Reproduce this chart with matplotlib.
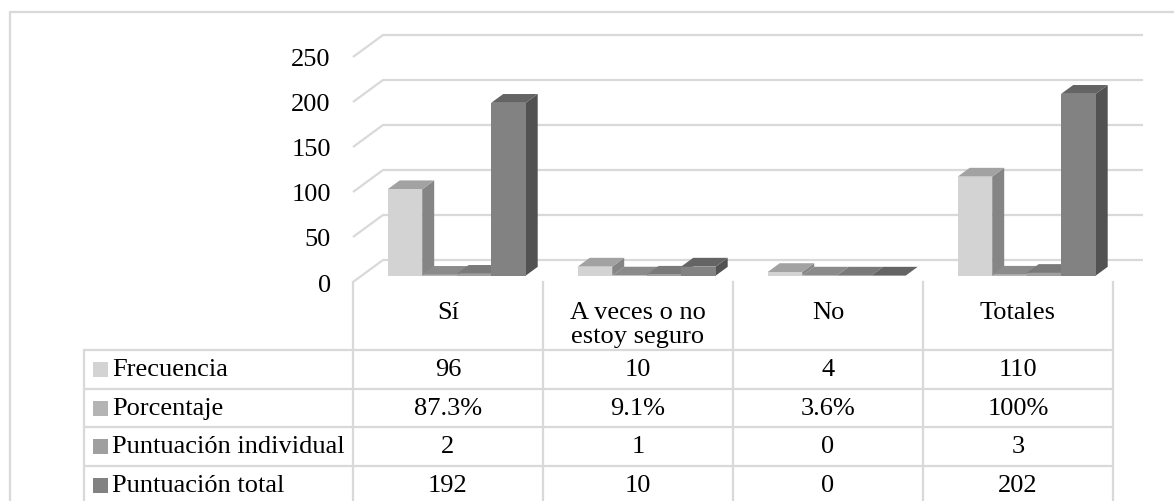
import numpy as np
import matplotlib
matplotlib.use("Agg")
import matplotlib.pyplot as plt
from matplotlib.patches import Polygon, Rectangle

plt.rcParams['font.family'] = ['Liberation Serif', 'DejaVu Sans']

# datos
categorias = ["Sí", "A veces o no\nestoy seguro", "No", "Totales"]
series = ["Frecuencia", "Porcentaje", "Puntuación individual", "Puntuación total"]
frecuencia = [96, 10, 4, 110]
porcentaje = [0.873, 0.091, 0.036, 1.00]
punt_individual = [2, 1, 0, 3]
punt_total = [192, 10, 0, 202]
texto_tabla = [
    ["96", "10", "4", "110"],
    ["87.3%", "9.1%", "3.6%", "100%"],
    ["2", "1", "0", "3"],
    ["192", "10", "0", "202"],
]
yticks = [0, 50, 100, 150, 200, 250]

valores = [frecuencia, porcentaje, punt_individual, punt_total]
colores = ["#d3d3d3", "#b4b4b4", "#9f9f9f", "#828282"]
gris = "#d9d9d9"
fs = 19


def sombra(c, f):
    r, g, b = matplotlib.colors.to_rgb(c)
    return (r * f, g * f, b * f)


W, H = 1174, 502
fig = plt.figure(figsize=(W / 100, H / 100), dpi=100, facecolor="w")

# geometria (pixeles)
x0_px, y0_px = 353, 283     # esquina frontal izquierda del suelo
cat_px = 190.0              # ancho de categoria
ppu = 0.9                   # pixeles por unidad del eje y

ax = fig.add_axes([x0_px / W, (H - y0_px) / H, (1150 - x0_px) / W, (y0_px - 20) / H])
ax.set_xlim(0, (1150 - x0_px) / cat_px)
ax.set_ylim(0, (y0_px - 20) / ppu)
for s in ax.spines.values():
    s.set_visible(False)
ax.set_xticks([])
ax.set_yticks(yticks)
ax.set_yticklabels([str(t) for t in yticks], fontsize=fs)
ax.tick_params(axis="y", length=0, pad=16)
ax.patch.set_alpha(0)

# profundidad del suelo / pared
fdx = 30 / cat_px
fdy = 22 / ppu
for t in yticks:
    ax.plot([0, fdx, 4 + fdx], [t, t + fdy, t + fdy], color=gris, lw=1.6,
            zorder=1, solid_capstyle="butt", clip_on=False)

# barras 3D
gap = 26 / cat_px
bw = 34.5 / cat_px
d0, d1 = 0.29, 0.69
bx = (d1 - d0) * fdx
by = (d1 - d0) * fdy
base = d0 * fdy
z = 2
for i in range(len(categorias)):
    for j, vals in enumerate(valores):
        v = vals[i]
        x = i + gap + j * bw + d0 * fdx
        top = base + v
        ax.add_patch(Polygon([(x + bw, base), (x + bw + bx, base + by),
                              (x + bw + bx, top + by), (x + bw, top)],
                             closed=True, fc=sombra(colores[j], 0.63), ec="none", zorder=z))
        ax.add_patch(Polygon([(x, top), (x + bx, top + by),
                              (x + bw + bx, top + by), (x + bw, top)],
                             closed=True, fc=sombra(colores[j], 0.77), ec="none", zorder=z))
        ax.bar(x, v, width=bw, bottom=base, align="edge", color=colores[j],
               linewidth=0, zorder=z)
        z += 1

# tabla de datos
tab = fig.add_axes([0, 0, 1, 1], zorder=-1)
tab.set_xlim(-x0_px / cat_px, (W - x0_px) / cat_px)
tab.set_ylim(H, 0)
tab.axis("off")

filas = [351, 390, 428, 467, 505]
izq = (84 - x0_px) / cat_px
for yl in filas[:-1]:
    tab.plot([izq, 4], [yl, yl], color=gris, lw=1.6, solid_capstyle="butt")
tab.plot([izq, izq], [filas[0], H], color=gris, lw=1.6)
for k in range(5):
    tab.plot([k, k], [y0_px, H], color=gris, lw=1.6)

for i, c in enumerate(categorias):
    tab.text(i + 0.5, 302, c, ha="center", va="top", fontsize=fs, linespacing=1.1)

for j, nombre in enumerate(series):
    yc = (filas[j] + filas[j + 1]) / 2
    tab.add_patch(Rectangle(((93 - x0_px) / cat_px, yc - 7.5), 15 / cat_px, 15,
                            fc=colores[j], ec="none"))
    tab.text((112 - x0_px) / cat_px, yc, nombre, ha="left", va="center", fontsize=fs)
    for i in range(len(categorias)):
        tab.text(i + 0.5, yc, texto_tabla[j][i], ha="center", va="center", fontsize=fs)

# borde exterior
fig.add_artist(Rectangle((10 / W, -0.05), 1.1, (H - 13) / H + 0.05, transform=fig.transFigure,
                         fill=False, ec=gris, lw=1.6))

plt.savefig("out.png", dpi=100, facecolor="w")
